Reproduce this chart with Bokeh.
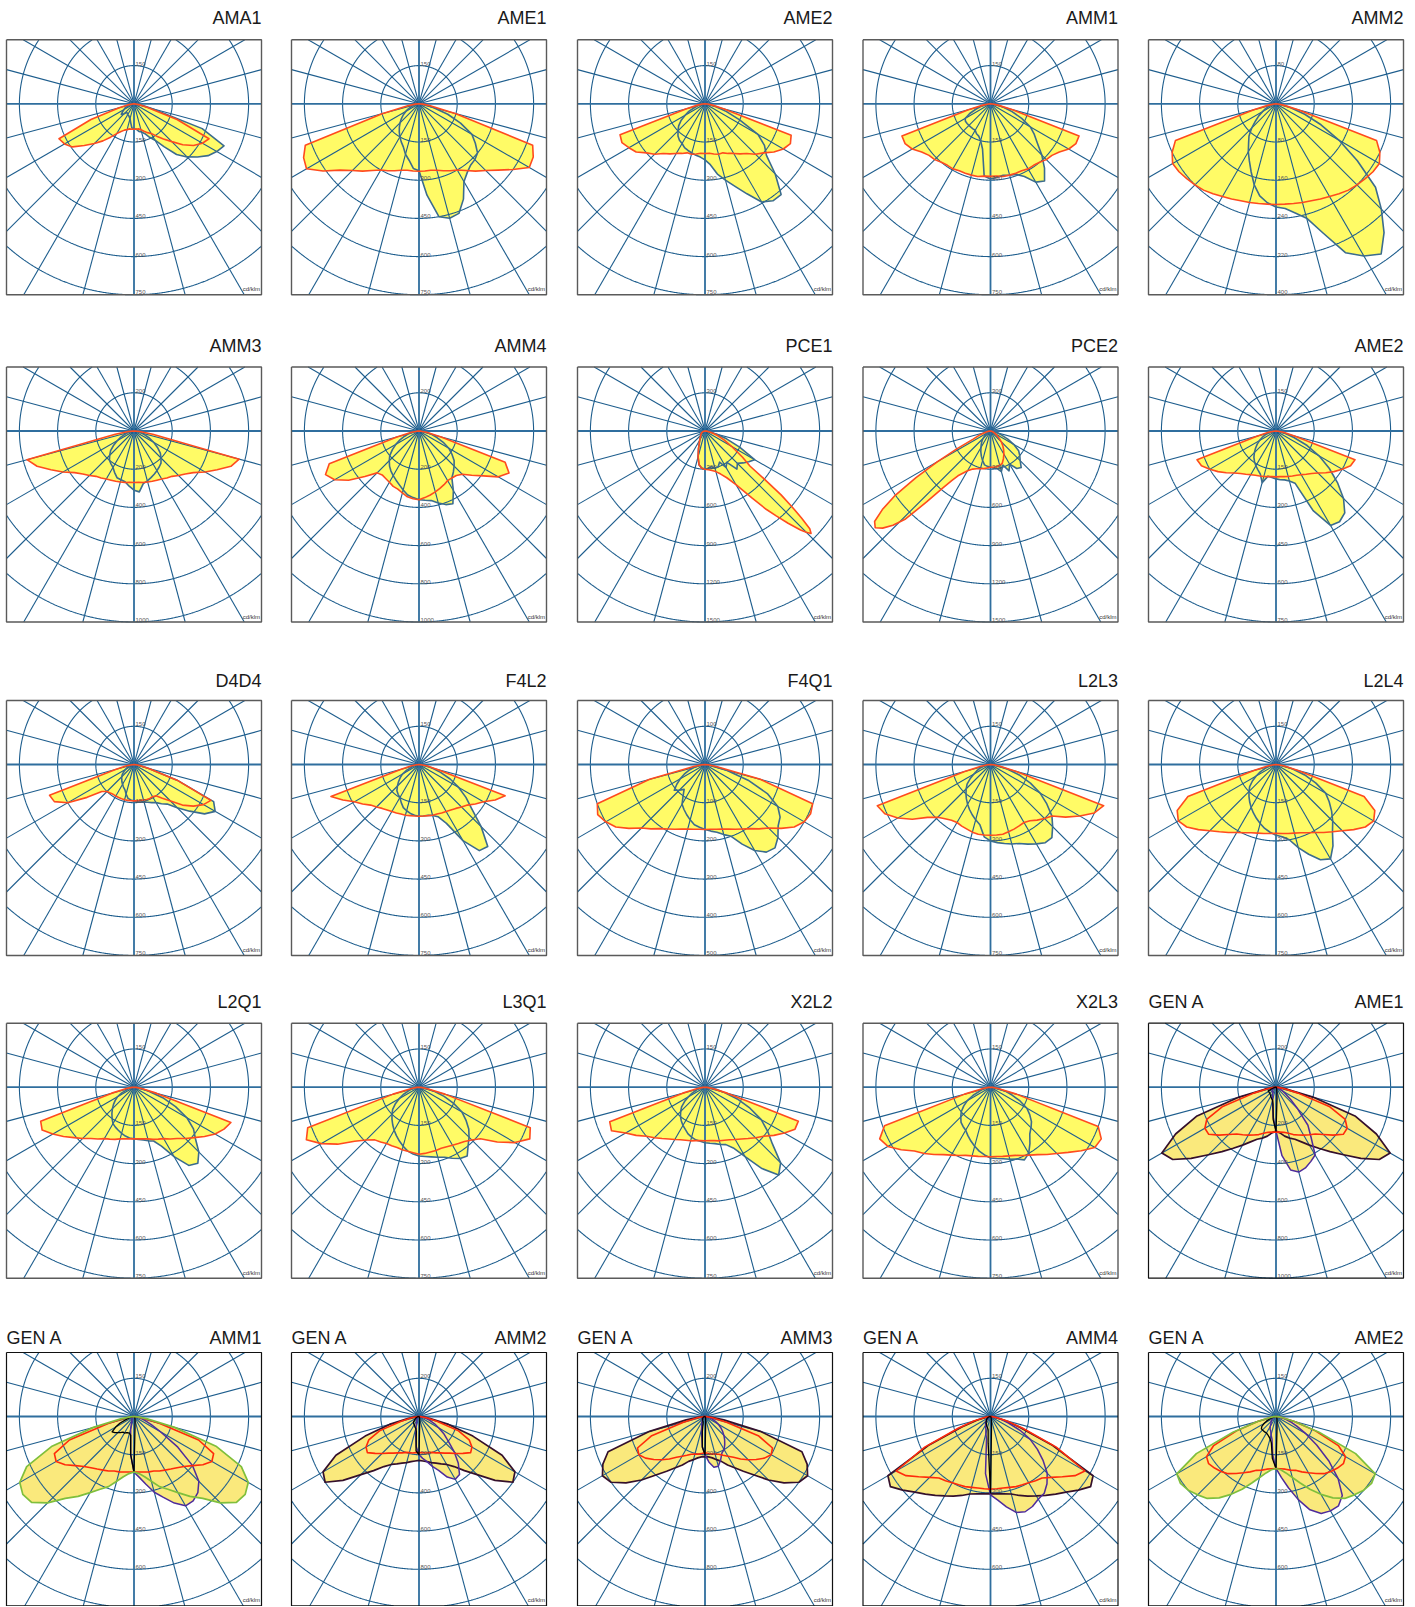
import numpy as np
from bokeh.plotting import figure
from bokeh.models import Range1d
from bokeh.embed import file_html
from bokeh.resources import INLINE
from bokeh.core.properties import value

# ---------------- data (cd/klm at gamma -90..90 step 5, 0 = nadir) ----------------
GAMMA = list(range(-90, 95, 5))

AMA1_C0 = [0,5,25,60,180,325,315,295,255,220,190,160,135,120,110,105,100,100,100,100,100,105,115,125,135,155,180,210,250,285,310,325,180,55,25,5,0]
AMA1_C90 = [0,5,10,15,25,40,45,55,65,55,45,45,50,50,55,60,75,95,100,100,110,115,125,145,165,205,260,295,325,355,375,390,285,75,30,10,0]
AME1_C0 = [0,15,45,150,475,500,510,460,405,370,345,320,300,290,280,270,265,265,265,265,265,270,280,290,300,320,345,370,405,450,500,495,475,150,45,15,0]
AME1_C90 = [0,5,15,25,30,45,60,75,90,105,120,135,150,165,180,205,225,255,263,360,450,465,458,413,353,330,315,310,300,270,240,180,120,60,30,10,0]
AME2A_C0 = [0,10,30,75,355,360,345,330,300,280,255,240,225,215,205,205,200,195,195,195,200,205,205,215,225,240,255,280,300,330,355,370,360,75,30,10,0]
AME2A_C90 = [0,5,15,30,45,70,90,115,135,150,165,175,180,190,195,200,205,210,220,240,280,310,345,390,445,465,465,390,315,285,240,150,90,45,15,5,0]
AMM1_C0 = [0,8,30,90,370,370,355,330,315,310,300,295,295,290,290,290,290,285,285,285,290,290,290,290,295,295,300,310,315,330,355,370,370,90,30,8,0]
AMM1_C90 = [0,5,15,40,60,90,115,120,120,120,120,120,120,130,135,150,180,285,295,290,285,290,295,315,355,370,330,285,240,210,180,135,90,55,30,10,0]
AMM2_C0 = [0,4,16,48,224,240,250,248,244,240,236,230,224,220,216,214,212,211,211,211,212,214,216,220,224,230,236,240,244,248,250,240,224,48,16,4,0]
AMM2_C90 = [0,2,6,12,16,24,32,44,56,72,88,100,116,132,152,176,196,208,216,220,232,248,288,344,368,384,352,312,272,208,152,104,64,32,12,4,0]

AMM3_C0 = [0,30,100,580,540,480,430,380,350,330,310,300,290,284,280,276,274,270,270,270,274,276,280,284,290,300,310,330,350,380,430,480,540,570,100,30,0]
AMM3_C90 = [0,6,20,36,50,76,100,130,160,180,200,210,220,240,260,264,270,290,310,320,280,270,260,250,240,230,220,200,180,150,120,90,60,40,20,6,0]
AMM4_C0 = [0,10,40,120,500,540,510,450,370,310,300,304,310,320,324,336,350,356,360,350,340,330,320,310,300,300,304,320,360,410,480,520,480,120,40,10,0]
AMM4_C90 = [0,10,30,60,80,110,140,170,200,220,240,256,270,284,300,320,340,350,360,364,370,390,410,420,360,300,280,260,240,210,180,140,100,70,40,10,0]

# narrow beams: own, finer angle lists
PCE1_C0_GAMMA = [-90,-80,-70,-60,-50,-40,-30,-20,-15,-10,-5,0,5,10,15,20,25,30,35,38,40,42,44,45,46,47,48,49,50,51,52,55,60,65,70,75,80,85,90]
PCE1_C0 = [0,6,18,30,42,54,84,150,210,270,294,300,306,315,330,360,405,486,642,780,870,975,1080,1125,1158,1125,1020,900,780,600,450,360,240,165,105,60,30,12,0]
PCE1_C90 = [0,0,6,12,18,24,30,36,42,48,54,66,81,105,150,210,270,291,300,294,285,300,300,270,330,300,390,360,390,420,450,300,180,90,36,12,0]
PCE2_C0_GAMMA = [-90,-85,-80,-75,-70,-65,-62,-60,-58,-56,-54,-52,-50,-48,-46,-44,-42,-40,-38,-36,-30,-25,-20,-15,-10,-5,0,5,10,15,20,25,30,35,40,45,50,55,60,65,70,75,80,85,90]
PCE2_C0 = [0,9,24,45,90,150,300,480,690,900,1050,1155,1182,1140,1065,960,750,585,495,435,360,330,315,306,300,291,285,285,285,279,270,240,210,180,150,120,90,66,45,30,18,12,6,0,0]
PCE2_C90 = [0,3,6,12,18,24,30,45,60,84,105,126,150,180,210,240,270,279,285,291,300,330,285,345,300,360,375,330,300,270,210,150,90,60,30,9,0]
AME2B_C0 = [0,8,30,75,330,323,300,278,255,233,218,207,198,192,188,185,182,180,180,180,182,185,188,192,198,207,218,233,255,278,300,323,330,75,30,8,0]
AME2B_C90 = [0,5,15,30,45,60,75,90,105,120,135,147,158,168,180,210,180,183,188,192,195,203,218,345,428,435,420,375,315,255,195,135,75,38,15,5,0]

D4D4_C0 = [0,8,30,75,353,345,300,225,165,150,146,143,143,143,143,143,143,143,143,143,143,144,146,147,146,150,173,203,248,285,315,333,180,60,23,8,0]
D4D4_C90 = [0,3,8,15,23,30,38,48,60,68,75,83,90,98,105,120,135,140,143,146,150,153,158,165,173,188,203,240,285,338,368,345,180,60,23,8,0]
F4L2_C0 = [0,8,30,75,368,330,293,270,248,236,225,218,213,210,207,206,204,203,203,203,204,206,207,210,213,218,225,236,248,270,293,330,360,75,30,8,0]
F4L2_C90 = [0,3,12,23,30,53,75,90,105,120,135,143,150,165,180,188,195,200,203,203,203,207,218,255,345,413,420,345,270,225,180,135,90,53,30,8,0]
F4Q1_C0 = [0,8,30,150,300,310,300,285,260,235,220,205,195,187,180,175,172,170,170,170,172,175,180,187,195,205,220,235,260,285,300,305,300,150,30,8,0]
F4Q1_C90 = [0,5,15,30,45,60,75,90,105,95,85,100,120,130,140,150,160,165,170,175,180,190,200,230,260,280,285,270,250,240,220,180,120,60,20,5,0]
L2L3_C0 = [0,12,38,105,473,458,420,375,323,293,278,267,263,267,270,275,278,278,278,278,278,273,270,266,263,270,285,300,315,360,405,450,473,105,38,12,0]
L2L3_C90 = [0,5,15,30,45,60,75,98,120,135,150,165,180,195,210,225,240,285,300,308,315,323,330,345,360,375,375,345,315,270,225,173,120,68,30,8,0]
L2L4_C0 = [0,8,30,90,368,428,443,428,398,368,345,326,308,296,285,279,275,272,270,272,275,279,285,296,308,326,345,368,398,428,443,428,368,90,30,8,0]
L2L4_C90 = [0,5,15,30,45,68,90,113,135,150,165,180,195,210,225,240,255,267,278,285,300,338,375,413,428,390,345,315,285,255,225,173,120,68,30,8,0]

L2Q1_C0 = [0,8,30,90,390,398,368,338,308,285,263,248,233,225,218,210,206,203,203,203,206,210,218,225,233,248,263,285,308,338,368,390,405,90,30,8,0]
L2Q1_C90 = [0,5,12,23,30,53,75,90,105,120,135,150,165,173,180,188,195,200,203,206,210,218,225,255,315,375,390,360,315,285,240,180,120,60,30,8,0]
L3Q1_C0 = [0,8,30,105,465,488,443,390,330,293,270,263,255,254,252,254,255,258,263,261,258,257,255,258,263,270,278,293,315,375,435,480,465,105,30,8,0]
L3Q1_C90 = [0,5,15,30,45,68,90,113,135,150,165,180,195,210,225,240,255,263,270,273,278,285,293,308,323,330,300,278,255,225,195,150,105,60,30,8,0]
X2L2_C0 = [0,8,30,90,398,405,360,330,300,281,263,248,237,228,222,218,213,210,210,210,213,218,222,228,237,248,263,281,300,330,360,390,390,90,30,8,0]
X2L2_C90 = [0,5,15,30,38,57,75,98,120,135,150,162,173,183,195,203,210,213,218,221,225,233,240,263,315,390,450,420,345,300,255,195,135,75,45,12,0]
X2L3_C0 = [0,8,30,105,443,480,465,428,390,368,345,323,308,296,285,279,276,273,273,273,276,279,285,296,308,323,345,368,398,435,473,480,450,105,30,8,0]
X2L3_C90 = [0,5,15,30,45,75,105,128,150,165,180,188,195,210,225,240,255,267,278,281,285,293,300,315,300,270,240,225,210,188,165,128,90,60,30,8,0]

GA_AME1_OUT = [0,20,60,200,440,580,690,660,580,500,440,390,350,316,290,276,260,240,230,240,260,276,290,316,350,390,440,500,580,660,690,580,440,200,60,20,0]
GA_AME1_RED = [0,10,40,120,300,400,430,430,390,350,320,304,290,276,264,250,240,236,234,236,240,250,264,276,290,304,320,350,390,430,430,400,300,120,40,10,0]
GA_AME1_PUR = [0,0,2,4,6,10,14,20,26,30,30,30,30,40,50,70,100,160,230,360,440,460,450,430,410,320,260,160,100,60,40,24,16,10,4,0,0]
GA_AME1_BLK = [0,2,5,10,20,45,45,45,45,45,48,50,55,60,65,70,90,170,230,60,25,15,10,8,6,5,4,3,2,2,1,1,0,0,0,0,0]

GA_AMM1_OUT = [0,15,53,165,345,465,518,533,525,480,420,383,345,315,293,263,240,225,218,225,240,263,293,315,345,383,420,480,525,533,518,465,345,165,53,15,0]
GA_AMM1_RED = [0,8,30,105,270,345,353,330,300,278,263,252,243,236,228,225,221,219,218,219,221,225,228,236,243,252,263,278,300,330,353,345,270,105,30,8,0]
GA_AMM1_PUR = [0,0,2,3,5,6,8,9,11,12,14,15,15,20,30,50,75,150,219,240,270,308,338,375,405,405,390,360,300,210,120,75,45,30,15,5,0]
GA_AMM1_BLK = [0,3,8,15,30,60,83,105,98,90,83,75,75,70,68,68,75,150,219,45,23,15,11,8,6,5,4,3,2,2,1,1,0,0,0,0,0]

GA_AMM2_OUT = [0,20,60,160,300,480,580,600,520,430,370,320,290,274,260,250,240,234,230,234,240,250,260,274,290,320,370,430,520,600,580,480,300,160,60,20,0]
GA_AMM2_RED = [0,10,40,100,220,290,320,330,300,274,250,234,220,210,200,196,194,190,190,190,194,196,200,210,220,234,250,274,300,330,320,290,220,100,40,10,0]
GA_AMM2_PUR = [0,0,2,4,6,8,10,12,14,16,18,19,20,28,40,60,100,160,200,220,240,270,300,350,380,370,320,260,200,160,120,90,60,40,20,6,0]
GA_AMM2_BLK = [0,2,5,8,12,16,20,26,32,40,44,48,50,54,60,64,80,180,200,40,20,12,8,6,4,3,2,2,1,1,0,0,0,0,0,0,0]

GA_AMM3_OUT = [0,30,100,300,540,590,620,600,540,470,400,350,310,280,250,234,220,212,210,212,220,234,250,280,310,350,400,470,540,600,620,590,540,300,100,30,0]
GA_AMM3_RED = [0,10,40,120,300,390,400,380,350,320,290,260,240,224,210,204,200,194,190,194,200,204,210,224,240,260,290,320,350,380,400,390,300,120,40,10,0]
GA_AMM3_PUR = [0,0,2,4,6,8,10,12,15,20,22,25,30,40,50,70,100,160,200,240,270,270,240,210,200,180,160,140,120,100,80,60,40,24,12,4,0]
GA_AMM3_BLK = [0,2,4,6,8,10,12,14,16,18,20,22,24,26,30,40,80,160,200,40,20,12,8,6,4,3,2,2,1,1,0,0,0,0,0,0,0]

GA_AMM4_OUT = [0,5,18,53,120,270,465,480,450,420,398,378,360,345,330,315,308,305,303,305,308,315,330,345,360,378,398,420,450,480,465,270,120,53,18,5,0]
GA_AMM4_RED = [0,6,23,68,135,285,428,405,368,338,315,308,300,296,293,288,285,285,285,285,285,288,293,296,300,308,315,338,368,405,428,285,135,68,23,6,0]
GA_AMM4_PUR = [0,1,3,5,8,10,12,15,18,23,30,35,38,45,53,70,90,225,308,330,360,390,398,390,375,368,345,315,270,225,180,128,75,45,23,8,0]
GA_AMM4_BLK = [0,2,4,6,9,12,15,18,20,23,26,30,33,36,42,45,53,105,300,45,20,12,8,6,4,3,2,2,1,1,0,0,0,0,0,0,0]

GA_AME2_OUT = [0,8,23,75,180,345,450,458,450,435,420,390,353,315,278,248,225,210,204,210,225,248,278,315,353,390,420,435,450,458,450,345,180,75,23,8,0]
GA_AME2_RED = [0,8,23,75,165,270,315,323,315,305,293,273,255,240,225,218,210,206,204,206,210,218,225,240,255,273,293,305,315,323,315,270,165,75,23,8,0]
GA_AME2_PUR = [0,2,5,9,12,15,18,20,23,26,30,35,45,55,60,75,90,150,204,240,285,338,390,420,428,428,405,345,270,195,135,90,60,38,15,5,0]
GA_AME2_BLK = [0,2,5,12,23,38,53,68,75,75,75,75,75,78,83,90,105,165,204,45,23,15,11,8,6,5,4,3,2,2,1,1,0,0,0,0,0]

TITLES = ["AMA1", "AME1", "AME2", "AMM1", "AMM2",
          "AMM3", "AMM4", "PCE1", "PCE2", "AME2",
          "D4D4", "F4L2", "F4Q1", "L2L3", "L2L4",
          "L2Q1", "L3Q1", "X2L2", "X2L3", "AME1",
          "AMM1", "AMM2", "AMM3", "AMM4", "AME2"]
GROUP_LABELS = [""] * 19 + ["GEN A"] * 6
RING_STEP = [150, 150, 150, 150, 80,
             200, 200, 300, 300, 150,
             150, 150, 100, 150, 150,
             150, 150, 150, 150, 200,
             150, 200, 200, 150, 150]

# (values, gamma list) pairs
STD_CURVES = [
    ((AMA1_C90, GAMMA), (AMA1_C0, GAMMA)), ((AME1_C90, GAMMA), (AME1_C0, GAMMA)),
    ((AME2A_C90, GAMMA), (AME2A_C0, GAMMA)), ((AMM1_C90, GAMMA), (AMM1_C0, GAMMA)),
    ((AMM2_C90, GAMMA), (AMM2_C0, GAMMA)),
    ((AMM3_C90, GAMMA), (AMM3_C0, GAMMA)), ((AMM4_C90, GAMMA), (AMM4_C0, GAMMA)),
    ((PCE1_C90, GAMMA), (PCE1_C0, PCE1_C0_GAMMA)), ((PCE2_C90, GAMMA), (PCE2_C0, PCE2_C0_GAMMA)),
    ((AME2B_C90, GAMMA), (AME2B_C0, GAMMA)),
    ((D4D4_C90, GAMMA), (D4D4_C0, GAMMA)), ((F4L2_C90, GAMMA), (F4L2_C0, GAMMA)),
    ((F4Q1_C90, GAMMA), (F4Q1_C0, GAMMA)), ((L2L3_C90, GAMMA), (L2L3_C0, GAMMA)),
    ((L2L4_C90, GAMMA), (L2L4_C0, GAMMA)),
    ((L2Q1_C90, GAMMA), (L2Q1_C0, GAMMA)), ((L3Q1_C90, GAMMA), (L3Q1_C0, GAMMA)),
    ((X2L2_C90, GAMMA), (X2L2_C0, GAMMA)), ((X2L3_C90, GAMMA), (X2L3_C0, GAMMA)),
]
GEN_CURVES = [
    (GA_AME1_OUT, GA_AME1_PUR, GA_AME1_RED, GA_AME1_BLK),
    (GA_AMM1_OUT, GA_AMM1_PUR, GA_AMM1_RED, GA_AMM1_BLK),
    (GA_AMM2_OUT, GA_AMM2_PUR, GA_AMM2_RED, GA_AMM2_BLK),
    (GA_AMM3_OUT, GA_AMM3_PUR, GA_AMM3_RED, GA_AMM3_BLK),
    (GA_AMM4_OUT, GA_AMM4_PUR, GA_AMM4_RED, GA_AMM4_BLK),
    (GA_AME2_OUT, GA_AME2_PUR, GA_AME2_RED, GA_AME2_BLK),
]
GEN_OUTER_COLOR = ["#34102c", "#7fbf3c", "#34102c", "#34102c", "#34102c", "#7fbf3c"]

# ---------------- layout / style ----------------
W, H = 1414, 1606
COL_LEFT = [6, 291, 577, 862.5, 1148]
ROW_TOP = [39.3, 366.5, 700, 1022.7, 1352]
TITLE_BASE = [17, 345.5, 680.5, 1001.5, 1337.5]
BOX = 255
CY_OFF = 64
RING = 38.2
PAGE_BOTTOM = H - 0.6

STD_FILL = "#fffb66"
GEN_FILL = "#fae97c"
STD_BLUE = "#3b6c8e"
STD_RED = "#ff4b1e"
GEN_RED = "#ff2a0a"
GEN_PUR = "#4e2c9c"
GRID_COLOR = "#1d5d8d"
AXIS_COLOR = "#2f6e9e"

p = figure(width=W, height=H, x_range=Range1d(0, W), y_range=Range1d(H, 0),
           output_backend="svg", toolbar_location=None, title=None,
           x_axis_location=None, y_axis_location=None, min_border=0,
           outline_line_color=None, background_fill_color="white", border_fill_color="white")
p.grid.visible = False


def clipped_circle(cx, cy, rad, l, r_, t, b, n=1800):
    th = np.linspace(0, 2 * np.pi, n + 1)
    x = cx + rad * np.cos(th)
    y = cy + rad * np.sin(th)
    ins = (x >= l) & (x <= r_) & (y >= t) & (y <= b)
    segs = []
    start = None
    for i in range(n + 1):
        if ins[i] and start is None:
            start = i
        if start is not None and ((not ins[i]) or i == n):
            end = i if ins[i] else i - 1
            if end > start:
                segs.append((x[start:end + 1].tolist(), y[start:end + 1].tolist()))
            start = None
    return segs


def polar_xy(cx, cy, scale, vals, gammas):
    g = np.radians(np.array(gammas, dtype=float))
    v = np.array(vals, dtype=float) * scale
    return (cx + v * np.sin(g)).tolist(), (cy + v * np.cos(g)).tolist()


fills = {"xs": [], "ys": [], "c": []}
grid_xs, grid_ys = [], []
axis_xs, axis_ys = [], []
lines = {}
box_std = ([], [])
box_gen = ([], [])
lab_x, lab_y, lab_t = [], [], []
cd_x, cd_y = [], []
tr_x, tr_y, tr_t = [], [], []
tl_x, tl_y, tl_t = [], [], []


def add_line(color, width, xs, ys):
    key = (color, width)
    if key not in lines:
        lines[key] = ([], [])
    lines[key][0].append(xs)
    lines[key][1].append(ys)


for idx in range(25):
    row, col = divmod(idx, 5)
    l = COL_LEFT[col]
    t = ROW_TOP[row]
    r_ = l + BOX
    b = min(t + BOX, PAGE_BOTTOM)
    cx = l + BOX / 2.0
    cy = t + CY_OFF
    step = RING_STEP[idx]
    scale = RING / step
    gen = GROUP_LABELS[idx] != ""

    if not gen:
        (c90, g90), (c0, g0) = STD_CURVES[idx]
        curve_specs = [(c90, g90, STD_BLUE, 1.6), (c0, g0, STD_RED, 1.6)]
        fill = STD_FILL
    else:
        out, pur, red, blk = GEN_CURVES[idx - 19]
        curve_specs = [(out, GAMMA, GEN_OUTER_COLOR[idx - 19], 1.7), (pur, GAMMA, GEN_PUR, 1.5),
                       (red, GAMMA, GEN_RED, 1.6), (blk, GAMMA, "#000000", 1.3)]
        fill = GEN_FILL
    for vals, gam, colr, lw in curve_specs:
        xs, ys = polar_xy(cx, cy, scale, vals, gam)
        fills["xs"].append(xs)
        fills["ys"].append(ys)
        fills["c"].append(fill)
        add_line(colr, lw, xs, ys)

    for k in range(1, 7):
        for sx, sy in clipped_circle(cx, cy, k * RING, l, r_, t, b):
            grid_xs.append(sx)
            grid_ys.append(sy)
    for a in range(0, 360, 15):
        if a % 90 == 0:
            continue
        th = np.radians(a)
        dx, dy = np.sin(th), np.cos(th)
        ts = []
        if dx > 1e-9:
            ts.append((r_ - cx) / dx)
        if dx < -1e-9:
            ts.append((l - cx) / dx)
        if dy > 1e-9:
            ts.append((b - cy) / dy)
        if dy < -1e-9:
            ts.append((t - cy) / dy)
        tt = min(ts)
        grid_xs.append([cx, cx + tt * dx])
        grid_ys.append([cy, cy + tt * dy])
    axis_xs += [[l, r_], [cx, cx]]
    axis_ys += [[cy, cy], [t, b]]

    bx = [l, r_, r_, l, l]
    by = [t, t, b, b, t]
    if gen:
        box_gen[0].append(bx); box_gen[1].append(by)
    else:
        box_std[0].append(bx); box_std[1].append(by)

    for k in range(1, 6):
        yk = cy + k * RING
        if yk <= b + 0.5:
            lab_x.append(cx + 1.5); lab_y.append(min(yk, b - 0.5)); lab_t.append(str(step * k))
    lab_x.append(cx + 1.5); lab_y.append(cy - RING); lab_t.append(str(step))
    cd_x.append(r_ - 1.5); cd_y.append(b - 2.5)

    tr_x.append(r_); tr_y.append(TITLE_BASE[row]); tr_t.append(TITLES[idx])
    if gen:
        tl_x.append(l); tl_y.append(TITLE_BASE[row]); tl_t.append(GROUP_LABELS[idx])

p.patches(xs=fills["xs"], ys=fills["ys"], fill_color=fills["c"], line_color=None)
p.multi_line(xs=grid_xs, ys=grid_ys, line_color=GRID_COLOR, line_width=1.1)
p.multi_line(xs=axis_xs, ys=axis_ys, line_color=AXIS_COLOR, line_width=1.8)
for (colr, lw), (xs, ys) in lines.items():
    p.multi_line(xs=xs, ys=ys, line_color=colr, line_width=lw, line_join="round")
p.multi_line(xs=box_std[0], ys=box_std[1], line_color="#5a5a5a", line_width=1.4)
p.multi_line(xs=box_gen[0], ys=box_gen[1], line_color="#111111", line_width=1.2)

p.text(x=lab_x, y=lab_y, text=lab_t, text_font=value("Liberation Sans"), text_font_size="6px",
       text_color="#555555", text_align="left", text_baseline="bottom")
p.text(x=cd_x, y=cd_y, text=["cd/klm"] * len(cd_x), text_font=value("Liberation Sans"),
       text_font_size="6px", text_color="#333333", text_align="right", text_baseline="bottom")
p.text(x=tr_x, y=tr_y, text=tr_t, text_font=value("Liberation Sans"), text_font_size="18px",
       text_color="#1a1a1a", text_align="right", text_baseline="alphabetic")
p.text(x=tl_x, y=tl_y, text=tl_t, text_font=value("Liberation Sans"), text_font_size="18px",
       text_color="#1a1a1a", text_align="left", text_baseline="alphabetic")

open("out.html", "w").write(file_html(p, INLINE))
